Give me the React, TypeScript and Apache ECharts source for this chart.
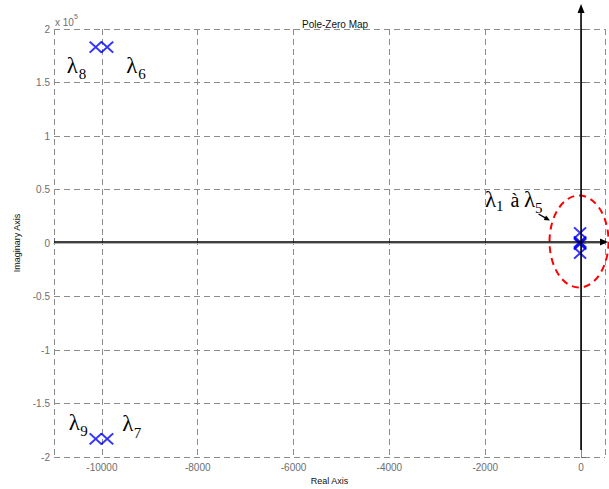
import React, { useEffect, useRef } from 'react';
import * as echarts from 'echarts';

// Pole locations (real part, imaginary part)
const poleRe = [-10130, -9890, -10130, -9890, -20, -20, -20, -20, -20];
const poleIm = [183000, 183000, -183000, -183000, 9500, 1000, 0, -1000, -9500];

const xMin = -11000;
const xMax = 500;
const yMin = -200000;
const yMax = 200000;
const yStep = 50000;
const yExponent = 5;

const titleText = 'Pole-Zero Map';
const xName = 'Real Axis';
const yName = 'Imaginary Axis';

// Pole annotations: anchor pole and text pieces (λ, subscripts, words)
const poleTags = [
  { pole: 0, pieces: [['λ', 'l', -29, 18], ['8', 's', -17, 26.5]] },
  { pole: 1, pieces: [['λ', 'l', 19, 18], ['6', 's', 31, 26.5]] },
  { pole: 2, pieces: [['λ', 'l', -27, -16], ['9', 's', -15.5, -7.5]] },
  { pole: 3, pieces: [['λ', 'l', 15, -15], ['7', 's', 26.5, -6]] },
  {
    pole: 6,
    pieces: [
      ['λ', 'l', -95, -43.5],
      ['1', 's', -84, -37],
      ['à', 't', -69.5, -43],
      ['λ', 'l', -56, -43.5],
      ['5', 's', -45, -35.5],
    ],
  },
];

const GRID = { left: 54, right: 4, top: 29, bottom: 32 };
const gray = '#6e6e6e';
const sans = '"Liberation Sans", Arial, Helvetica, sans-serif';
const serif = '"Liberation Serif", "Times New Roman", serif';
const pieceSize: Record<string, number> = { l: 23, s: 15, t: 20 };

export default function App() {
  const ref = useRef<HTMLDivElement>(null);
  useEffect(() => {
    if (!ref.current) return;
    document.body.style.margin = '0';
    const chart = echarts.init(ref.current, null, { renderer: 'svg' });
    const data = poleRe.map((r, i) => [r, poleIm[i]]);
    const axisCommon = {
      type: 'value' as const,
      axisLine: { show: true, lineStyle: { color: gray, width: 1 } },
    };
    chart.setOption({
      animation: false,
      backgroundColor: '#fff',
      title: {
        text: titleText,
        left: 297,
        top: 14,
        textStyle: { fontSize: 10, fontWeight: 'normal', color: '#111', fontFamily: sans },
      },
      grid: { ...GRID, containLabel: false, outerBoundsMode: 'none' },
      xAxis: [
        {
          ...axisCommon,
          min: xMin,
          max: xMax,
          position: 'bottom',
          name: xName,
          nameLocation: 'middle',
          nameGap: 19,
          nameTextStyle: { fontSize: 9, color: '#111', fontFamily: sans },
          axisTick: { show: true, inside: true, length: 5, lineStyle: { color: gray } },
          axisLabel: {
            margin: 5,
            fontSize: 10,
            color: gray,
            fontFamily: sans,
            formatter: (v: number) => (v % 2000 === 0 ? String(v) : ''),
          },
          splitLine: { show: true, lineStyle: { color: '#8c8c8c', type: [6, 4], width: 1 } },
        },
        {
          ...axisCommon,
          min: xMin,
          max: xMax,
          position: 'top',
          axisLine: { show: true, lineStyle: { color: '#b0b0b0', width: 1 } },
          axisTick: { show: false },
          axisLabel: { show: false },
          splitLine: { show: false },
        },
      ],
      yAxis: [
        {
          ...axisCommon,
          min: yMin,
          max: yMax,
          interval: yStep,
          position: 'left',
          name: yName,
          nameLocation: 'middle',
          nameGap: 31,
          nameTextStyle: { fontSize: 9, color: '#111', fontFamily: sans },
          axisTick: { show: true, inside: true, length: 5, lineStyle: { color: gray } },
          axisLabel: {
            margin: 4,
            fontSize: 10,
            color: gray,
            fontFamily: sans,
            formatter: (v: number) => String(v / Math.pow(10, yExponent)),
          },
          splitLine: { show: true, lineStyle: { color: '#8c8c8c', type: [6, 4], width: 1 } },
        },
        {
          ...axisCommon,
          min: yMin,
          max: yMax,
          interval: yStep,
          position: 'right',
          axisLine: { show: true, lineStyle: { color: '#8c8c8c', width: 1 } },
          axisTick: { show: false },
          axisLabel: { show: false },
          splitLine: { show: false },
        },
      ],
      series: [
        {
          type: 'scatter',
          xAxisIndex: 0,
          yAxisIndex: 0,
          data,
          symbol: 'path://M0,0L10,10M10,0L0,10',
          symbolSize: [12, 11],
          itemStyle: { color: 'rgba(0,0,0,0)', borderColor: '#0000ff', borderWidth: 2 },
          z: 3,
        },
      ],
    });

    const p0 = chart.convertToPixel({ gridIndex: 0 }, [0, 0]) as number[];
    const W = chart.getWidth();
    const H = chart.getHeight();
    const plotLeft = GRID.left;
    const plotBottom = H - GRID.bottom;

    const graphics: any[] = [];
    // x 10^5 exponent
    graphics.push({
      type: 'text',
      x: plotLeft + 1,
      y: 13,
      z: 20,
      style: {
        text: '{b|x 10}{e|' + yExponent + '}',
        rich: {
          b: { fontSize: 10, fontFamily: sans, fill: gray, lineHeight: 14, verticalAlign: 'bottom' },
          e: { fontSize: 7, fontFamily: sans, fill: gray, lineHeight: 14, verticalAlign: 'top' },
        },
      },
    });
    // Black vertical axis with arrow at top
    graphics.push({
      type: 'line',
      z: 30,
      shape: { x1: p0[0], y1: plotBottom - 7, x2: p0[0], y2: 11 },
      style: { stroke: '#000', lineWidth: 1.6 },
    });
    graphics.push({
      type: 'polygon',
      z: 30,
      shape: { points: [[p0[0], 4], [p0[0] - 3.5, 13], [p0[0] + 3.5, 13]] },
      style: { fill: '#000' },
    });
    // Black horizontal axis with arrow at right
    graphics.push({
      type: 'line',
      z: 30,
      shape: { x1: plotLeft, y1: p0[1] - 1, x2: W - 6, y2: p0[1] - 1 },
      style: { stroke: '#000', lineWidth: 1.6 },
    });
    graphics.push({
      type: 'polygon',
      z: 30,
      shape: { points: [[W - 1, p0[1] - 1], [W - 9, p0[1] - 4.5], [W - 9, p0[1] + 2.5]] },
      style: { fill: '#000' },
    });
    // Red dashed ellipse around poles near the origin
    graphics.push({
      type: 'ellipse',
      z: 25,
      shape: { cx: p0[0] - 2, cy: p0[1] - 1.5, rx: 29.5, ry: 46 },
      style: { fill: 'none', stroke: '#ff0000', lineWidth: 2, lineDash: [7, 5] },
    });
    // Small arrow from label to ellipse
    const a1 = [p0[0] - 42.5, p0[1] - 29];
    const a2 = [p0[0] - 31, p0[1] - 22.5];
    graphics.push({
      type: 'line',
      z: 30,
      shape: { x1: a1[0], y1: a1[1], x2: a2[0] - 3, y2: a2[1] - 1.6 },
      style: { stroke: '#000', lineWidth: 1.4 },
    });
    graphics.push({
      type: 'polygon',
      z: 30,
      shape: {
        points: [
          [a2[0], a2[1]],
          [a2[0] - 6.3, a2[1] - 0.6],
          [a2[0] - 3.9, a2[1] - 5],
        ],
      },
      style: { fill: '#000' },
    });
    // λ labels
    poleTags.forEach((tag) => {
      const p = chart.convertToPixel({ gridIndex: 0 }, [poleRe[tag.pole], poleIm[tag.pole]]) as number[];
      tag.pieces.forEach((pc: any[]) => {
        graphics.push({
          type: 'text',
          z: 30,
          x: p[0] + pc[2],
          y: p[1] + pc[3],
          style: {
            text: pc[0],
            fontSize: pieceSize[pc[1]],
            fontFamily: serif,
            fill: '#000',
            align: 'left',
            verticalAlign: 'middle',
          },
        });
      });
    });
    chart.setOption({ graphic: graphics });

    return () => chart.dispose();
  }, []);
  return <div ref={ref} style={{ width: 609, height: 489 }} />;
}
